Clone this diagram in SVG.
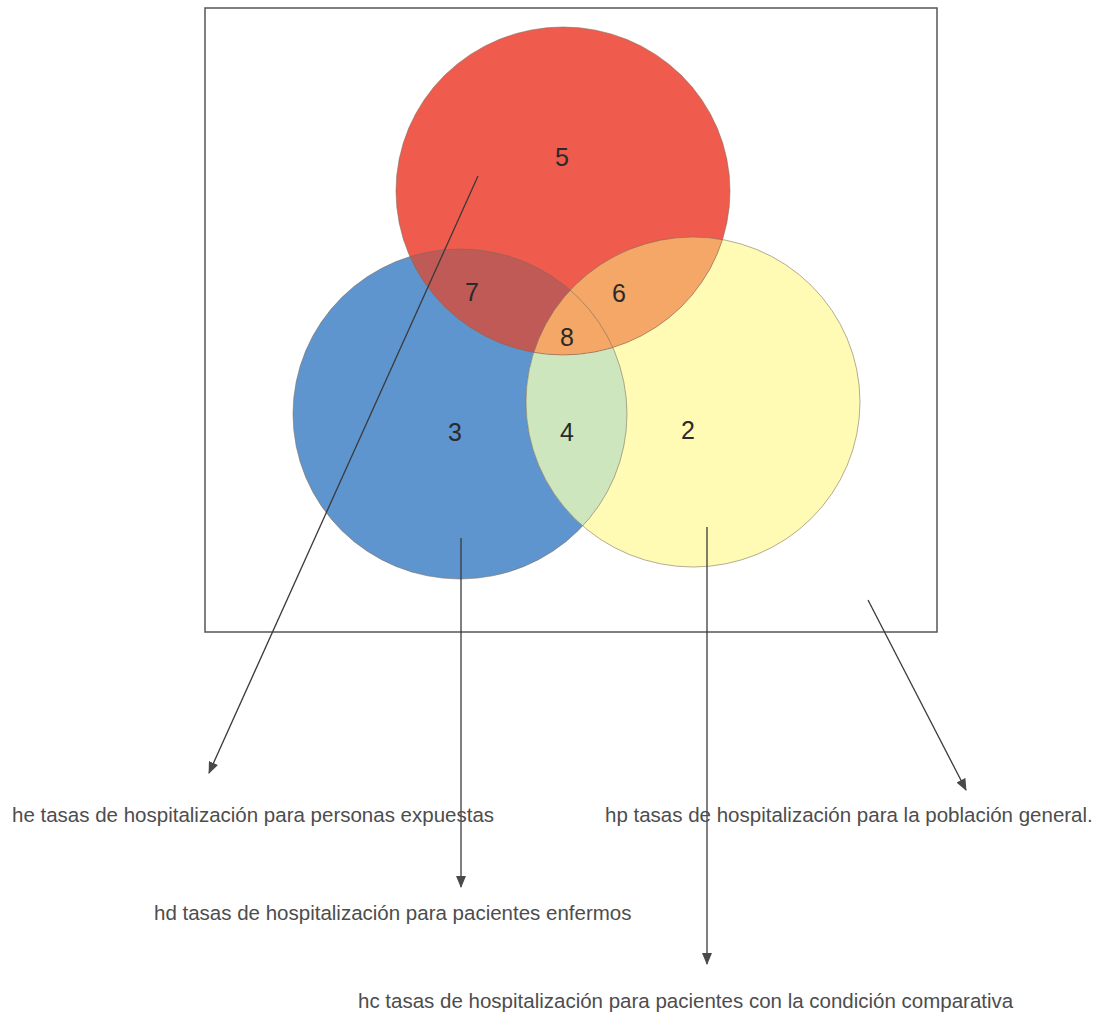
<svg xmlns="http://www.w3.org/2000/svg" width="1102" height="1019" viewBox="0 0 1102 1019">
<style>
.frame{fill:none;stroke:#555;stroke-width:1.5}
.num{font-family:"Liberation Sans",Arial,sans-serif;font-size:25px;fill:#2a2a2a;text-anchor:middle}
.lbl{font-family:"Liberation Sans",Arial,sans-serif;font-size:20.5px;fill:#4d4d4d}
.conn{stroke:#3a3a3a;stroke-width:1.3;fill:none}
.edge{fill:none;stroke:#7a6a5a;stroke-width:0.8;stroke-opacity:0.7}
</style>
<defs>
<marker id="ah" viewBox="0 0 12 10" refX="11" refY="5" markerWidth="12" markerHeight="10" markerUnits="userSpaceOnUse" orient="auto">
<path d="M0,0 L12,5 L0,10 Z" fill="#4a4a4a"/>
</marker>
<clipPath id="cBlue"><ellipse cx="460" cy="414" rx="167" ry="165"/></clipPath>
<clipPath id="cYellow"><ellipse cx="693" cy="402" rx="167" ry="165"/></clipPath>
</defs>
<rect width="1102" height="1019" fill="#ffffff"/>
<g id="frame"><rect class="frame" x="205" y="8" width="732" height="624"/></g>
<g id="circle-blue"><ellipse cx="460" cy="414" rx="167" ry="165" fill="#5e95cf"/></g>
<g id="circle-yellow"><ellipse cx="693" cy="402" rx="167" ry="165" fill="#fffbb4"/>
<ellipse cx="693" cy="402" rx="167" ry="165" fill="#cde6bd" clip-path="url(#cBlue)"/></g>
<g id="circle-red"><ellipse cx="563" cy="191" rx="167" ry="164" fill="#ef5b4d"/>
<ellipse cx="563" cy="191" rx="167" ry="164" fill="#bf5a56" clip-path="url(#cBlue)"/>
<ellipse cx="563" cy="191" rx="167" ry="164" fill="#f4a766" clip-path="url(#cYellow)"/></g>
<g id="edges">
<ellipse class="edge" cx="460" cy="414" rx="167" ry="165"/>
<ellipse class="edge" cx="693" cy="402" rx="167" ry="165"/>
<ellipse class="edge" cx="563" cy="191" rx="167" ry="164"/>
</g>
<g id="numbers">
<text class="num" x="562" y="166">5</text>
<text class="num" x="472" y="301">7</text>
<text class="num" x="619" y="302">6</text>
<text class="num" x="567" y="346">8</text>
<text class="num" x="455" y="441">3</text>
<text class="num" x="567" y="441">4</text>
<text class="num" x="688" y="439">2</text>
</g>
<g id="connectors">
<line class="conn" x1="478" y1="176" x2="209" y2="773" marker-end="url(#ah)"/>
<line class="conn" x1="461" y1="538" x2="461" y2="887" marker-end="url(#ah)"/>
<line class="conn" x1="707" y1="527" x2="707" y2="964" marker-end="url(#ah)"/>
<line class="conn" x1="868" y1="600" x2="966" y2="790" marker-end="url(#ah)"/>
</g>
<g id="label-he"><text class="lbl" x="12" y="822">he tasas de hospitalización para personas expuestas</text></g>
<g id="label-hp"><text class="lbl" x="605" y="822">hp tasas de hospitalización para la población general.</text></g>
<g id="label-hd"><text class="lbl" x="154" y="920">hd tasas de hospitalización para pacientes enfermos</text></g>
<g id="label-hc"><text class="lbl" x="358" y="1008">hc tasas de hospitalización para pacientes con la condición comparativa</text></g>
</svg>
